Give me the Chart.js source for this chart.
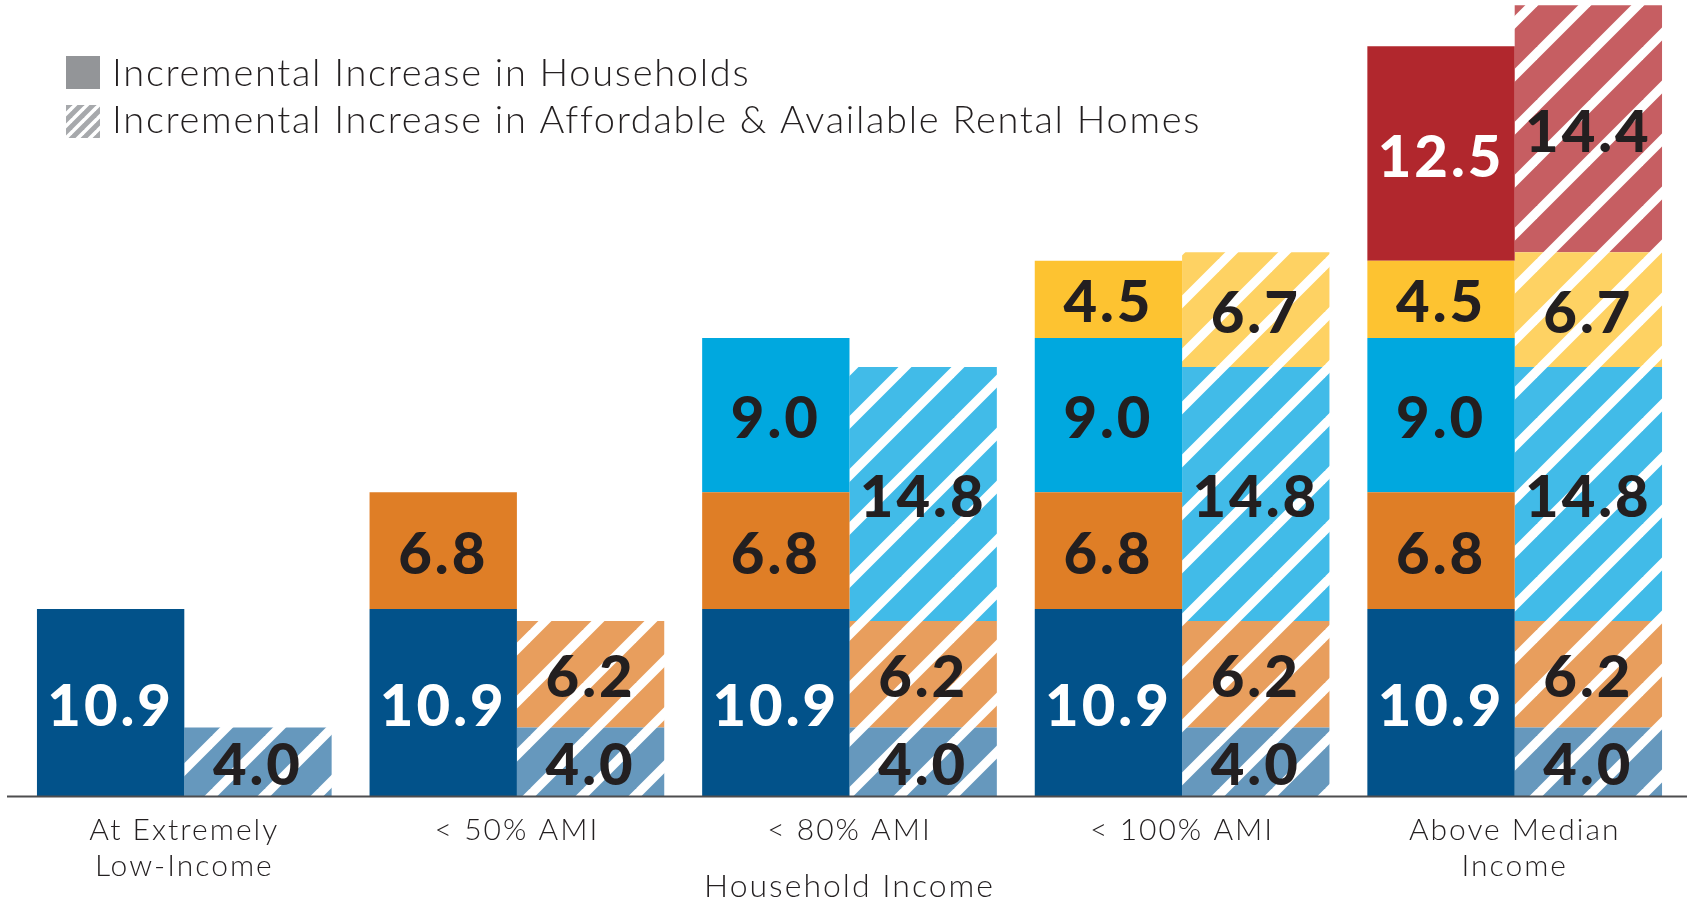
<!DOCTYPE html>
<html>
<head>
<meta charset="utf-8">
<script src="https://cdn.jsdelivr.net/npm/chart.js@4.4.1/dist/chart.umd.min.js"></script>
<style>
  html, body { margin: 0; padding: 0; background: #fff; overflow: hidden; }
  #wrap { width: 1687px; height: 903px; }
</style>
</head>
<body>
<div id="wrap"><canvas id="barChart" width="1687" height="903"></canvas></div>
<script>
// categories on the x axis
var categories = [['At Extremely', 'Low-Income'], '< 50% AMI', '< 80% AMI', '< 100% AMI', ['Above Median', 'Income']];

// incremental increase in households (solid stack)
var hhExtremelyLow = [10.9, 10.9, 10.9, 10.9, 10.9];
var hhUnder50 = [null, 6.8, 6.8, 6.8, 6.8];
var hhUnder80 = [null, null, 9.0, 9.0, 9.0];
var hhUnder100 = [null, null, null, 4.5, 4.5];
var hhAboveMedian = [null, null, null, null, 12.5];

// incremental increase in affordable & available rental homes (hatched stack)
var rentExtremelyLow = [4.0, 4.0, 4.0, 4.0, 4.0];
var rentUnder50 = [null, 6.2, 6.2, 6.2, 6.2];
var rentUnder80 = [null, null, 14.8, 14.8, 14.8];
var rentUnder100 = [null, null, null, 6.7, 6.7];
var rentAboveMedian = [null, null, null, null, 14.4];

var legendLabels = ['Incremental Increase in Households', 'Incremental Increase in Affordable & Available Rental Homes'];
var axisTitle = 'Household Income';

var FONT = 'Lato, "Noto Sans", sans-serif';
var INK = '#231F20';

function stripes(color, size, white) {
    var c = document.createElement('canvas');
    c.width = size; c.height = size;
    var g = c.getContext('2d');
    g.fillStyle = color;
    g.fillRect(0, 0, size, size);
    g.strokeStyle = '#ffffff';
    g.lineWidth = white / Math.SQRT2;
    for (var k = 0; k <= 2; k++) {
        g.beginPath();
        g.moveTo(k * size + size, -size);
        g.lineTo(k * size - 2 * size, 2 * size);
        g.stroke();
    }
    return g.createPattern(c, 'repeat');
}

var ctx = document.getElementById('barChart').getContext('2d');

function solid(data, color, labelColor) {
    return { data: data, stack: 'households', backgroundColor: color, labelColor: labelColor };
}
function hatched(data, color) {
    return { data: data, stack: 'rental', backgroundColor: stripes(color, 53, 13), labelColor: INK };
}

var datasets = [
    solid(hhExtremelyLow, '#02528A', '#ffffff'),
    solid(hhUnder50, '#DF7E26', INK),
    solid(hhUnder80, '#00A8DF', INK),
    solid(hhUnder100, '#FDC331', INK),
    solid(hhAboveMedian, '#B1272D', '#ffffff'),
    hatched(rentExtremelyLow, '#6698BD'),
    hatched(rentUnder50, '#E89E5D'),
    hatched(rentUnder80, '#41BBE8'),
    hatched(rentUnder100, '#FED263'),
    hatched(rentAboveMedian, '#C65E62')
];

// wider tracking for the axis text, closer to the original typeface
var spacing = {
    id: 'spacing',
    beforeDraw: function(chart) {
        chart.ctx.letterSpacing = '2px';
    }
};

var valueLabels = {
    id: 'valueLabels',
    afterDatasetsDraw: function(chart) {
        var c = chart.ctx;
        c.save();
        c.letterSpacing = '3px';
        c.font = '900 58px ' + FONT;
        c.textAlign = 'center';
        c.textBaseline = 'alphabetic';
        chart.data.datasets.forEach(function(ds, i) {
            chart.getDatasetMeta(i).data.forEach(function(bar, j) {
                var v = ds.data[j];
                if (v === null || v === undefined) return;
                c.fillStyle = ds.labelColor;
                c.fillText(v.toFixed(1), bar.x, (bar.y + bar.base) / 2 + 23);
            });
        });
        c.restore();
    }
};

var baseline = {
    id: 'baseline',
    afterDatasetsDraw: function(chart) {
        var c = chart.ctx;
        var y = chart.chartArea.bottom + 0.5;
        c.save();
        c.strokeStyle = '#4D4D4F';
        c.lineWidth = 2;
        c.beginPath();
        c.moveTo(7, y);
        c.lineTo(chart.width, y);
        c.stroke();
        c.restore();
    }
};

var cornerLegend = {
    id: 'cornerLegend',
    afterDraw: function(chart) {
        var c = chart.ctx;
        c.save();
        c.fillStyle = '#939598';
        c.fillRect(66, 56, 34, 33);
        c.fillStyle = stripes('#A7A9AC', 12, 5);
        c.fillRect(66, 105, 34, 33);
        c.fillStyle = INK;
        c.letterSpacing = '1.7px';
        c.font = '300 38px ' + FONT;
        c.textAlign = 'left';
        c.textBaseline = 'alphabetic';
        c.fillText(legendLabels[0], 112, 86);
        c.fillText(legendLabels[1], 112, 133);
        c.restore();
    }
};

var barChart = new Chart(ctx, {
    type: 'bar',
    data: {
        labels: categories,
        datasets: datasets
    },
    options: {
        responsive: false,
        animation: false,
        layout: { padding: { left: 18, right: 6, top: 0, bottom: 0 } },
        datasets: {
            bar: { categoryPercentage: 0.886, barPercentage: 1.0, borderWidth: 0 }
        },
        plugins: {
            legend: { display: false },
            tooltip: { enabled: false }
        },
        scales: {
            x: {
                stacked: true,
                grid: { display: false, drawTicks: false },
                border: { display: false },
                ticks: {
                    color: INK,
                    padding: 16,
                    maxRotation: 0,
                    autoSkip: false,
                    font: { family: FONT, size: 30, weight: '300', lineHeight: 1.2 }
                },
                title: {
                    display: true,
                    text: axisTitle,
                    color: INK,
                    padding: { top: -32.4, bottom: -3 },
                    font: { family: FONT, size: 32, weight: '300', lineHeight: 1.2 }
                }
            },
            y: {
                stacked: true,
                display: false,
                min: 0,
                max: 46.4
            }
        }
    },
    plugins: [spacing, valueLabels, baseline, cornerLegend]
});
</script>
</body>
</html>
